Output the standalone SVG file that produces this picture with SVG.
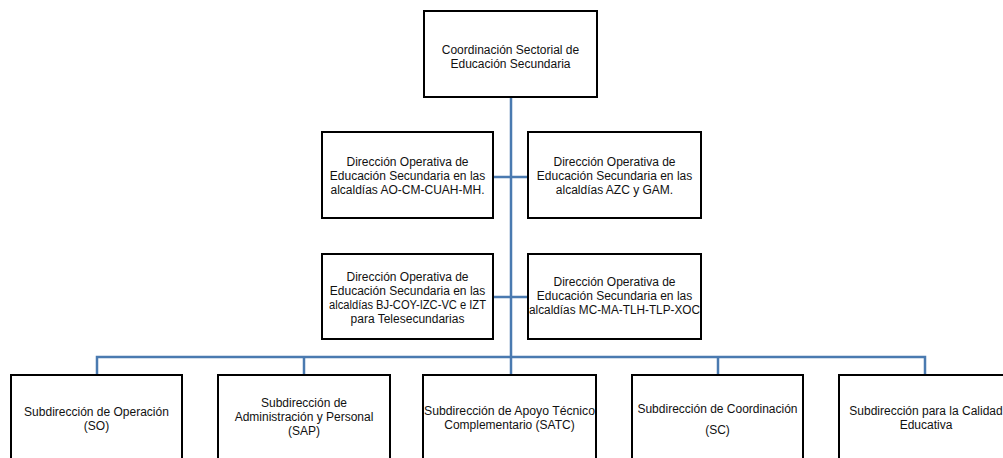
<svg xmlns="http://www.w3.org/2000/svg" width="1003" height="458" viewBox="0 0 1003 458">
<style>
.box{fill:#fff;stroke:#000;stroke-width:2}
.lbl{font-family:"Liberation Sans",Arial,sans-serif;font-size:12px;fill:#111;text-anchor:middle}
.con{fill:none;stroke:#4a7ab0;stroke-width:2.5}
</style>
<rect width="1003" height="458" fill="#fff"/>
<g id="connectors">
<path class="con" d="M511 97V357"/>
<path class="con" d="M493 177H528"/>
<path class="con" d="M493 297H528"/>
<path class="con" d="M97 375V357H925V375"/>
<path class="con" d="M304 357V375"/>
<path class="con" d="M511 357V375"/>
<path class="con" d="M718 357V375"/>
</g>
<g id="n-top">
<rect class="box" x="424" y="11" width="173" height="86"/>
<text class="lbl" x="510.5" y="54">Coordinación Sectorial de</text>
<text class="lbl" x="510.5" y="68">Educación Secundaria</text>
</g>
<g id="n-ao">
<rect class="box" x="322" y="132" width="171" height="86"/>
<text class="lbl" x="407.5" y="166">Dirección Operativa de</text>
<text class="lbl" x="407.5" y="180">Educación Secundaria en las</text>
<text class="lbl" x="407.5" y="194">alcaldías AO-CM-CUAH-MH.</text>
</g>
<g id="n-azc">
<rect class="box" x="528" y="132" width="173" height="86"/>
<text class="lbl" x="614.5" y="166">Dirección Operativa de</text>
<text class="lbl" x="614.5" y="180">Educación Secundaria en las</text>
<text class="lbl" x="614.5" y="194">alcaldías AZC y GAM.</text>
</g>
<g id="n-bj">
<rect class="box" x="322" y="254" width="171" height="85"/>
<text class="lbl" x="407.5" y="281">Dirección Operativa de</text>
<text class="lbl" x="407.5" y="295">Educación Secundaria en las</text>
<text class="lbl" x="407.5" y="309" textLength="157" lengthAdjust="spacingAndGlyphs">alcaldías BJ-COY-IZC-VC e IZT</text>
<text class="lbl" x="407.5" y="323">para Telesecundarias</text>
</g>
<g id="n-mc">
<rect class="box" x="528" y="254" width="173" height="85"/>
<text class="lbl" x="614.5" y="286">Dirección Operativa de</text>
<text class="lbl" x="614.5" y="300">Educación Secundaria en las</text>
<text class="lbl" x="614.5" y="314" textLength="171" lengthAdjust="spacingAndGlyphs">alcaldías MC-MA-TLH-TLP-XOC</text>
</g>
<g id="n-so">
<rect class="box" x="11" y="375" width="171" height="100"/>
<text class="lbl" x="96.5" y="416">Subdirección de Operación</text>
<text class="lbl" x="96.5" y="430">(SO)</text>
</g>
<g id="n-sap">
<rect class="box" x="218" y="375" width="172" height="100"/>
<text class="lbl" x="304" y="407">Subdirección de</text>
<text class="lbl" x="304" y="421">Administración y Personal</text>
<text class="lbl" x="304" y="435">(SAP)</text>
</g>
<g id="n-satc">
<rect class="box" x="423" y="375" width="173" height="100"/>
<text class="lbl" x="509.5" y="415" textLength="171" lengthAdjust="spacingAndGlyphs">Subdirección de Apoyo Técnico</text>
<text class="lbl" x="509.5" y="429">Complementario (SATC)</text>
</g>
<g id="n-sc">
<rect class="box" x="632" y="375" width="171" height="100"/>
<text class="lbl" x="717.5" y="413">Subdirección de Coordinación</text>
<text class="lbl" x="717.5" y="434">(SC)</text>
</g>
<g id="n-sce">
<rect class="box" x="839" y="375" width="174" height="100"/>
<text class="lbl" x="926" y="415">Subdirección para la Calidad</text>
<text class="lbl" x="926" y="429">Educativa</text>
</g>
</svg>
